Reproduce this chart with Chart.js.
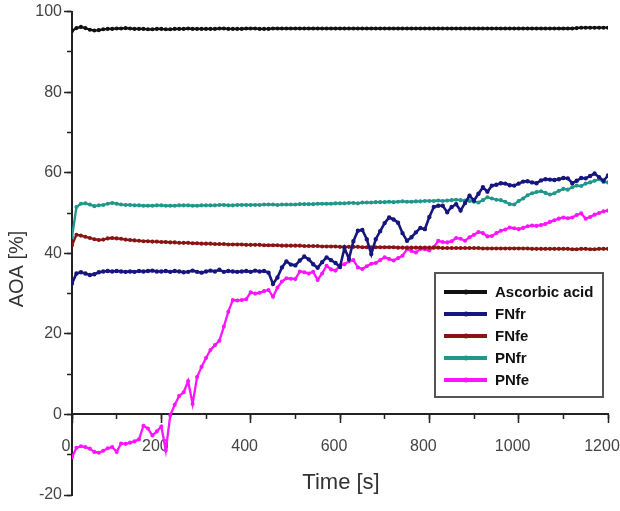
<!DOCTYPE html>
<html lang="en">
<head>
<meta charset="UTF-8" />
<title>AOA vs time</title>
<script src="https://cdn.jsdelivr.net/npm/chart.js@4.4.1/dist/chart.umd.min.js"></script>
<style>
    html, body { margin: 0; padding: 0; background: #fff; }
    #wrap { width: 620px; height: 511px; position: relative; }
</style>
</head>
<body>
<div id="wrap"><canvas id="aoaChart"></canvas></div>
<script>
// sampling times (s)
const time = [
    0, 10, 20, 30, 40, 50, 60, 70, 80, 90,
    100, 110, 120, 130, 140, 150, 160, 170, 180, 190,
    200, 210, 220, 230, 240, 250, 260, 270, 280, 290,
    300, 310, 320, 330, 340, 350, 360, 370, 380, 390,
    400, 410, 420, 430, 440, 450, 460, 470, 480, 490,
    500, 510, 520, 530, 540, 550, 560, 570, 580, 590,
    600, 610, 620, 630, 640, 650, 660, 670, 680, 690,
    700, 710, 720, 730, 740, 750, 760, 770, 780, 790,
    800, 810, 820, 830, 840, 850, 860, 870, 880, 890,
    900, 910, 920, 930, 940, 950, 960, 970, 980, 990,
    1000, 1010, 1020, 1030, 1040, 1050, 1060, 1070, 1080, 1090,
    1100, 1110, 1120, 1130, 1140, 1150, 1160, 1170, 1180, 1190,
    1200
];

const ascorbicAcid = [
    95.2, 95.9, 96.2, 95.9, 95.5, 95.3, 95.4, 95.6, 95.7, 95.7,
    95.8, 95.8, 95.9, 95.8, 95.7, 95.7, 95.7, 95.6, 95.6, 95.7,
    95.7, 95.6, 95.6, 95.7, 95.7, 95.7, 95.8, 95.7, 95.7, 95.7,
    95.7, 95.7, 95.7, 95.8, 95.8, 95.7, 95.7, 95.7, 95.7, 95.8,
    95.8, 95.8, 95.7, 95.7, 95.7, 95.8, 95.8, 95.8, 95.8, 95.8,
    95.8, 95.8, 95.8, 95.8, 95.8, 95.8, 95.8, 95.8, 95.8, 95.8,
    95.8, 95.8, 95.8, 95.8, 95.8, 95.8, 95.8, 95.8, 95.8, 95.8,
    95.8, 95.8, 95.8, 95.8, 95.8, 95.8, 95.8, 95.8, 95.8, 95.8,
    95.8, 95.8, 95.8, 95.8, 95.8, 95.8, 95.8, 95.8, 95.8, 95.8,
    95.8, 95.8, 95.8, 95.8, 95.8, 95.8, 95.8, 95.8, 95.8, 95.8,
    95.8, 95.8, 95.8, 95.8, 95.8, 95.8, 95.8, 95.8, 95.8, 95.8,
    95.8, 95.8, 95.8, 95.9, 96.0, 96.0, 96.0, 96.0, 96.0, 96.0,
    96.0
];

const fnFr = [
    32.5, 35.0, 35.3, 35.0, 34.6, 34.8, 35.3, 35.5, 35.6, 35.5,
    35.6, 35.5, 35.4, 35.5, 35.4, 35.6, 35.5, 35.6, 35.7, 35.5,
    35.5, 35.6, 35.4, 35.6, 35.5, 35.3, 35.4, 35.7, 35.4, 35.2,
    35.5, 35.7, 35.5, 35.9, 35.4, 35.6, 35.5, 35.4, 35.5, 35.6,
    35.4, 35.7, 35.5, 35.6, 35.2, 32.4, 34.0, 36.5, 38.0, 37.2,
    37.0, 38.2, 39.2, 38.5, 37.3, 36.4, 37.8, 39.0, 38.3, 37.6,
    36.6, 41.3, 38.6, 43.0, 45.6, 45.8, 43.5, 39.8, 43.5, 45.5,
    47.5, 48.9, 48.4, 47.6, 45.0, 43.1, 44.0, 45.2, 46.3, 46.0,
    49.0, 51.5, 51.8, 51.8, 50.2, 51.5, 52.2, 50.6, 52.5, 54.3,
    53.1, 54.8, 56.4, 55.3, 56.8, 57.0, 57.4, 57.3, 56.9, 56.8,
    57.3, 57.8, 57.9, 57.6, 57.4, 58.1, 58.4, 58.3, 58.2, 58.4,
    58.7, 58.6, 57.4, 58.0, 58.7, 58.6, 59.2, 59.8, 58.9, 58.0,
    59.3
];

const fnFe = [
    42.0, 44.6, 44.4, 44.1, 43.8, 43.5, 43.3, 43.4, 43.7, 43.8,
    43.7, 43.6, 43.4, 43.3, 43.2, 43.1, 43.0, 43.0, 42.9, 42.9,
    42.8, 42.8, 42.7, 42.7, 42.6, 42.6, 42.6, 42.5, 42.5, 42.4,
    42.4, 42.4, 42.3, 42.3, 42.3, 42.2, 42.2, 42.2, 42.2, 42.1,
    42.1, 42.1, 42.1, 42.0, 42.0, 42.0, 42.0, 41.9, 41.9, 41.9,
    41.9, 41.9, 41.8, 41.8, 41.8, 41.8, 41.7, 41.7, 41.7, 41.7,
    41.6, 41.6, 41.6, 41.6, 41.6, 41.5, 41.5, 41.5, 41.5, 41.5,
    41.5, 41.5, 41.5, 41.4, 41.4, 41.4, 41.4, 41.4, 41.4, 41.4,
    41.4, 41.4, 41.4, 41.3, 41.3, 41.3, 41.3, 41.3, 41.3, 41.3,
    41.3, 41.3, 41.2, 41.2, 41.2, 41.2, 41.2, 41.2, 41.2, 41.2,
    41.2, 41.2, 41.2, 41.1, 41.1, 41.1, 41.1, 41.1, 41.1, 41.1,
    41.1, 41.1, 41.0, 41.0, 41.1, 41.1, 41.0, 41.0, 41.1, 41.1,
    41.1
];

const pnFr = [
    44.0, 51.5, 52.3, 52.4, 52.1, 51.7, 51.9, 52.0, 52.3, 52.5,
    52.3, 52.1, 52.0, 52.0, 51.9, 51.9, 51.8, 51.8, 51.8, 51.9,
    51.9, 51.8, 51.8, 51.8, 51.9, 51.9, 51.9, 51.8, 51.8, 51.9,
    51.9, 51.9, 51.9, 52.0, 52.0, 51.9, 51.9, 52.0, 52.0, 52.0,
    52.0, 52.0, 52.0, 52.1, 52.1, 52.1, 52.0, 52.1, 52.1, 52.1,
    52.1, 52.2, 52.2, 52.2, 52.2, 52.3, 52.3, 52.3, 52.3, 52.4,
    52.4, 52.4, 52.5, 52.5, 52.4, 52.6, 52.6, 52.6, 52.7, 52.7,
    52.7, 52.8, 52.7, 52.8, 52.9, 52.8, 52.8, 52.9, 52.9, 53.0,
    53.0, 53.0, 53.1, 53.0, 53.1, 53.2, 53.3, 53.2, 53.1, 53.0,
    52.8, 52.6, 53.2, 53.9, 53.6, 53.3, 53.2, 52.8, 52.2, 52.1,
    53.0, 53.6, 54.4, 54.9, 55.2, 55.4, 55.0, 54.6, 54.9, 55.5,
    56.0, 55.8, 56.4, 56.8, 56.7, 57.3, 57.6, 58.0, 58.4, 57.7,
    57.6
];

const pnFe = [
    -10.6, -8.3, -7.9, -8.1, -8.5, -9.3, -9.5, -9.0, -8.4, -8.1,
    -9.3, -7.2, -7.3, -7.0, -6.7, -6.2, -2.8, -3.5, -5.2, -4.2,
    -3.0, -8.9, -0.2, 2.4, 4.6, 5.5, 8.3, 2.6, 9.3, 11.8,
    14.0, 16.0, 17.2, 18.3, 21.8, 25.5, 28.4, 28.3, 28.4, 28.6,
    30.3, 30.0, 30.2, 30.6, 30.9, 29.2, 31.5, 33.0, 33.8, 33.7,
    33.6, 35.5, 35.3, 35.0, 35.4, 33.4, 35.0, 36.9, 36.0, 35.7,
    37.0, 37.3, 38.0, 38.3, 36.5, 36.1, 36.8, 37.4, 37.6, 38.3,
    39.0, 38.6, 38.2, 38.8, 39.4, 41.0, 40.6, 40.2, 41.1, 41.0,
    40.7, 41.5, 43.1, 42.8, 42.7, 43.0, 43.8, 43.6, 43.1, 44.0,
    44.6, 45.3, 45.0, 44.2, 44.3, 45.0, 45.6, 45.9, 46.4, 46.2,
    46.0, 46.3, 46.7, 46.9, 46.8, 47.0, 47.3, 47.8, 48.2, 48.6,
    48.9, 48.7, 48.9, 49.5, 49.9, 48.6, 49.0, 49.6, 50.0, 50.4,
    50.6
];

const seriesNames = ['Ascorbic acid', 'FNfr', 'FNfe', 'PNfr', 'PNfe'];
const seriesValues = [ascorbicAcid, fnFr, fnFe, pnFr, pnFe];
const seriesColors = ['#111111', '#16167e', '#8a1414', '#21968a', '#ff14ff'];

const FONT = '"Liberation Sans", Arial, sans-serif';

// legend drawn as a framed box inside the plot
const boxLegend = {
    id: 'boxLegend',
    afterDatasetsDraw(chart) {
        const ctx = chart.ctx;
        ctx.save();
        ctx.fillStyle = '#ffffff';
        ctx.fillRect(435, 273, 168, 124);
        ctx.strokeStyle = '#555555';
        ctx.lineWidth = 2;
        ctx.strokeRect(435, 273, 168, 124);
        chart.data.datasets.forEach((ds, i) => {
            const y = 292 + i * 22;
            ctx.strokeStyle = ds.borderColor;
            ctx.lineWidth = 4;
            ctx.beginPath();
            ctx.moveTo(444, y);
            ctx.lineTo(487, y);
            ctx.stroke();
            ctx.fillStyle = ds.borderColor;
            ctx.beginPath();
            ctx.arc(466, y, 2.5, 0, Math.PI * 2);
            ctx.fill();
            ctx.fillStyle = '#111111';
            ctx.font = 'bold 15px ' + FONT;
            ctx.textAlign = 'left';
            ctx.textBaseline = 'middle';
            ctx.fillText(ds.label, 495, y + 1);
        });
        ctx.restore();
    }
};

// axis titles
const axisTitles = {
    id: 'axisTitles',
    afterDraw(chart) {
        const ctx = chart.ctx;
        ctx.save();
        ctx.fillStyle = '#333333';
        ctx.textAlign = 'center';
        ctx.textBaseline = 'middle';
        ctx.font = '22px ' + FONT;
        ctx.fillText('Time [s]', 341, 483);
        ctx.translate(17, 269);
        ctx.rotate(-Math.PI / 2);
        ctx.font = '20px ' + FONT;
        ctx.fillText('AOA [%]', 0, 0);
        ctx.restore();
    }
};

const datasets = seriesNames.map((name, i) => ({
    label: name,
    data: time.map((t, j) => ({ x: t, y: seriesValues[i][j] })),
    borderColor: seriesColors[i],
    backgroundColor: seriesColors[i],
    borderWidth: i === 1 ? 2.6 : 2.3,
    pointRadius: 0.9,
    pointHoverRadius: 0,
    tension: 0
}));

const tickFont = { family: FONT, size: 16 };
const noPad = s => { s.paddingLeft = 0; s.paddingRight = 0; };

new Chart(document.getElementById('aoaChart'), {
    type: 'line',
    data: { datasets },
    options: {
        responsive: true,
        maintainAspectRatio: false,
        animation: false,
        layout: { padding: { left: 0, right: 12, top: 11, bottom: 16 } },
        plugins: {
            legend: { display: false },
            tooltip: { enabled: false }
        },
        scales: {
            x: {
                type: 'linear', position: { y: 0 }, min: 0, max: 1200,
                ticks: { stepSize: 200, font: tickFont, color: '#444', padding: 15, labelOffset: -6,
                         callback: v => String(v) },
                grid: { drawOnChartArea: false, tickLength: 8, tickColor: '#222', tickWidth: 1.5 },
                border: { color: '#222', width: 2 },
                afterFit: noPad
            },
            x2: {
                type: 'linear', position: { y: 0 }, min: 0, max: 1200,
                ticks: { stepSize: 100, display: false },
                grid: { drawOnChartArea: false, tickLength: 5, tickColor: '#222', tickWidth: 1.5 },
                border: { display: false },
                afterFit: noPad
            },
            y: {
                type: 'linear', position: 'left', weight: 1, min: -20, max: 100,
                ticks: { stepSize: 20, font: tickFont, color: '#444', padding: 2 },
                grid: { drawOnChartArea: false, tickLength: 8, tickColor: '#222', tickWidth: 1.5 },
                border: { color: '#222', width: 2 },
                afterFit: s => { s.width = 72; }
            },
            yMinor: {
                type: 'linear', position: 'left', weight: 0, min: -20, max: 100,
                ticks: { stepSize: 10, display: false },
                grid: { drawOnChartArea: false, tickLength: 5, tickColor: '#222', tickWidth: 1.5 },
                border: { display: false },
                afterFit: s => { s.width = 0; }
            }
        }
    },
    plugins: [boxLegend, axisTitles]
});
</script>
</body>
</html>
